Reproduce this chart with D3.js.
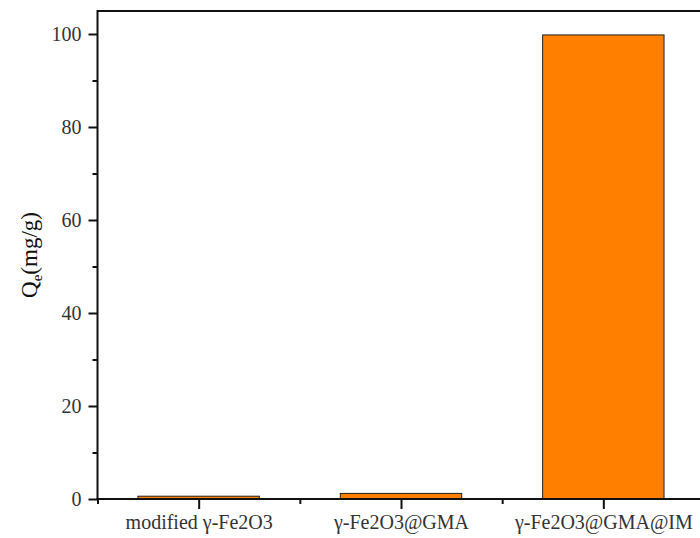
<!DOCTYPE html>
<html><head><meta charset="utf-8">
<script src="https://cdn.jsdelivr.net/npm/d3@7"></script>
<style>body{margin:0;background:#fff}svg{display:block}</style>
</head><body><svg id="c" width="700" height="538"></svg>
<script>
const categories = ["modified γ-Fe2O3", "γ-Fe2O3@GMA", "γ-Fe2O3@GMA@IM"];
const values = [0.6, 1.2, 99.8];
const yTicks = [0, 20, 40, 60, 80, 100];
const yMinorTicks = [10, 30, 50, 70, 90];
const yLabel = "Q";
const yLabelSub = "e";
const yLabelRest = "(mg/g)";

const svg = d3.select("#c");
const L = 97.5, R = 704.5, T = 11, B = 499;
const x = d3.scaleLinear().domain([0.5, 3.5]).range([L, R]);
const y = d3.scaleLinear().domain([0, 100]).range([B, 34]);
const font = "'Liberation Serif', 'DejaVu Serif', serif";

// bars
svg.selectAll("rect.bar").data(values).enter().append("rect")
  .attr("class","bar")
  .attr("x",(d,i)=>x(i+1-0.3)).attr("width",x(1.3)-x(0.7))
  .attr("y",d=>y(d)).attr("height",d=>B-y(d))
  .attr("fill","#FF8000").attr("stroke","#222").attr("stroke-width",1);

// frame top line
svg.append("line").attr("x1",L).attr("x2",R).attr("y1",T).attr("y2",T)
  .attr("stroke","#111").attr("stroke-width",2);

// y axis
const yAxis = d3.axisLeft(y).tickValues(yTicks).tickSize(9).tickPadding(7).tickSizeOuter(0);
const gy = svg.append("g").attr("transform",`translate(${L},0)`).call(yAxis);
gy.select(".domain").remove();
svg.append("line").attr("x1",L).attr("x2",L).attr("y1",T-1).attr("y2",B+1)
  .attr("stroke","#111").attr("stroke-width",2);
gy.selectAll(".tick line").attr("stroke","#111").attr("stroke-width",2);
gy.selectAll(".tick text").attr("font-family",font).attr("font-size",20).attr("fill","#333");
const gym = svg.append("g").attr("transform",`translate(${L},0)`)
  .call(d3.axisLeft(y).tickValues(yMinorTicks).tickSize(5).tickFormat(""));
gym.select(".domain").remove();
gym.selectAll(".tick line").attr("stroke","#111").attr("stroke-width",2);

// x axis
const xAxis = d3.axisBottom(x).tickValues([1,2,3]).tickSize(10).tickPadding(6)
  .tickFormat(d=>categories[d-1]);
const gx = svg.append("g").attr("transform",`translate(0,${B})`).call(xAxis);
gx.select(".domain").remove();
svg.append("line").attr("x1",L-1).attr("x2",R).attr("y1",B).attr("y2",B)
  .attr("stroke","#111").attr("stroke-width",2);
gx.selectAll(".tick line").attr("stroke","#111").attr("stroke-width",2);
gx.selectAll(".tick text").attr("font-family",font).attr("font-size",20).attr("fill","#333");
const gxm = svg.append("g").attr("transform",`translate(0,${B})`)
  .call(d3.axisBottom(x).tickValues([0.5,1.5,2.5,3.5]).tickSize(5).tickFormat(""));
gxm.select(".domain").remove();
gxm.selectAll(".tick line").attr("stroke","#111").attr("stroke-width",2);

// y label
const yl = svg.append("text")
  .attr("transform",`translate(37,${(T+B)/2}) rotate(-90)`)
  .attr("text-anchor","middle").attr("font-family",font).attr("font-size",23).attr("fill","#111");
yl.append("tspan").text(yLabel);
yl.append("tspan").attr("font-size",15).attr("dy",5).text(yLabelSub);
yl.append("tspan").attr("dy",-5).text(yLabelRest);
</script></body></html>
